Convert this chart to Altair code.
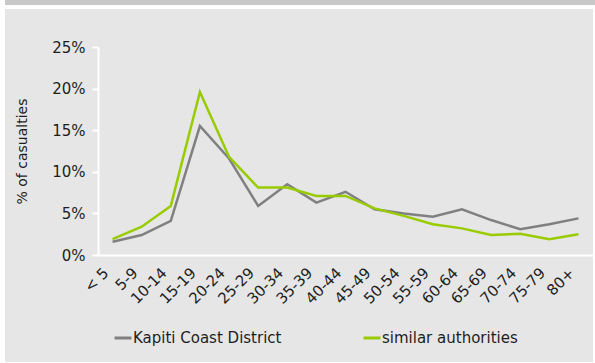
import altair as alt
import pandas as pd

# Age bands (x axis categories)
ages = ["< 5", "5-9", "10-14", "15-19", "20-24", "25-29", "30-34", "35-39",
        "40-44", "45-49", "50-54", "55-59", "60-64", "65-69", "70-74",
        "75-79", "80+"]

# Share of casualties (%) by age band
kapiti = [1.6, 2.4, 4.1, 15.5, 11.6, 5.9, 8.5, 6.3, 7.6, 5.5, 5.0, 4.6,
          5.5, 4.2, 3.1, 3.7, 4.4]
similar = [1.9, 3.4, 5.9, 19.6, 11.8, 8.1, 8.1, 7.1, 7.1, 5.6, 4.7, 3.7,
           3.2, 2.4, 2.55, 1.9, 2.5]

series_names = ["Kapiti Coast District", "similar authorities"]
series_colors = ["#808080", "#99cc00"]
y_ticks = [0, 5, 10, 15, 20, 25]

FONT = "DejaVu Sans"
TEXT = "#1e1e1e"
SIZE = 15

rows = []
for name, vals in zip(series_names, [kapiti, similar]):
    for i, (a, v) in enumerate(zip(ages, vals)):
        rows.append({"age": a, "order": i, "series": name, "pct": v})
df = pd.DataFrame(rows)

one = pd.DataFrame({"k": [0]})

# Grey panel behind the chart and the strip across the top
panel = alt.Chart(one).mark_rect(color="#e6e6e6").encode(
    x=alt.value(-93), x2=alt.value(495), y=alt.value(-38), y2=alt.value(315)
)
top_bar = alt.Chart(one).mark_rect(color="#c8c8c8").encode(
    x=alt.value(-93), x2=alt.value(497), y=alt.value(-47), y2=alt.value(-42)
)

lines = alt.Chart(df).mark_line(strokeWidth=2.5).encode(
    x=alt.X("age:N", sort=ages,
            axis=alt.Axis(title=None, labelAngle=-45, labelAlign="right",
                          labelBaseline="middle", labelPadding=15,
                          labelOffset=-7, ticks=False, domainColor="white",
                          domainWidth=2, labelFontSize=SIZE, labelFont=FONT,
                          labelColor=TEXT, zindex=1)),
    y=alt.Y("pct:Q", scale=alt.Scale(domain=[0, 25]),
            axis=alt.Axis(title="% of casualties", values=y_ticks,
                          labelExpr="datum.value + '%'", grid=False,
                          domainColor="white", domainWidth=2,
                          tickColor="white", tickWidth=2, tickSize=6,
                          labelPadding=7, labelFontSize=SIZE, labelFont=FONT,
                          labelColor=TEXT, titleFontSize=14,
                          titleFont=FONT, titleColor=TEXT,
                          titleFontWeight="normal",
                          titleX=-76, titleY=104, titleAlign="center",
                          titleBaseline="middle", titleAngle=-90, zindex=1)),
    color=alt.Color("series:N",
                    scale=alt.Scale(domain=series_names, range=series_colors),
                    legend=alt.Legend(title=None, orient="none",
                                      direction="horizontal",
                                      legendX=15, legendY=281, padding=0,
                                      symbolType="stroke", symbolSize=289,
                                      symbolStrokeWidth=3, columnPadding=75,
                                      labelOffset=0,
                                      labelFontSize=SIZE, labelFont=FONT,
                                      labelColor=TEXT, labelLimit=400)),
    order="order:Q",
)

chart = alt.layer(top_bar, panel, lines).properties(
    width=495, height=208,
    autosize=alt.AutoSizeParams(type="none"),
    padding={"left": 98, "top": 47, "right": 2, "bottom": 108},
    background="white",
).configure_view(stroke=None)

chart.save("out.html", embed_options={"renderer": "svg", "actions": False})
